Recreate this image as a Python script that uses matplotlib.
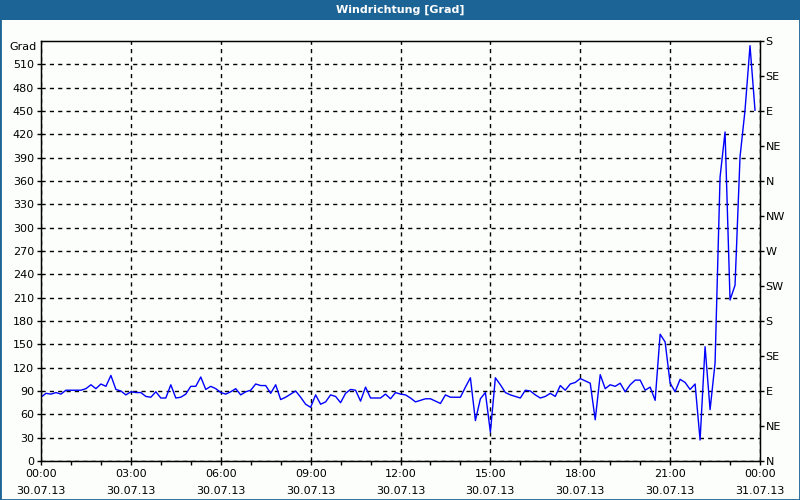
import numpy as np
import pandas as pd
import matplotlib
matplotlib.use("Agg")
import matplotlib.pyplot as plt
import matplotlib.dates as mdates
from matplotlib.ticker import MultipleLocator, FixedLocator

# wind direction, 10-minute values from 30.07.13 00:00 to 23:50
richtung = [
    82, 87, 86, 88, 86, 91, 91, 91, 91, 93,
    98, 93, 99, 96, 110, 92, 90, 85, 89, 88,
    88, 83, 82, 89, 81, 81, 98, 81, 82, 86,
    96, 96, 108, 92, 96, 93, 88, 86, 89, 93,
    85, 89, 91, 99, 97, 97, 87, 98, 79, 82,
    86, 90, 82, 73, 69, 85, 73, 76, 85, 83,
    75, 87, 92, 91, 77, 95, 81, 81, 81, 86,
    80, 88, 86, 85, 81, 76, 78, 80, 80, 77,
    74, 85, 82, 82, 82, 95, 107, 52, 80, 88,
    37, 107, 98, 88, 85, 83, 81, 91, 90, 85,
    81, 83, 87, 83, 97, 91, 99, 101, 106, 103,
    100, 53, 111, 93, 98, 96, 100, 89, 98, 104,
    104, 91, 95, 78, 163, 153, 100, 89, 105, 101,
    92, 99, 27, 147, 66, 126, 365, 423, 207, 226,
    391, 451, 534, 451,
]
zeit = pd.date_range("2013-07-30 00:00", periods=len(richtung), freq="10min")

kompass = ["N", "NE", "E", "SE", "S", "SW", "W", "NW", "N", "NE", "E", "SE", "S"]
kompass_pos = [45 * i for i in range(len(kompass))]

blau = "#1d6496"
hintergrund = "#fbfefb"

fig = plt.figure(figsize=(8, 5), dpi=100, facecolor=hintergrund)
ax = fig.add_axes([41 / 800, 39 / 500, 719 / 800, 420 / 500])
ax.set_facecolor(hintergrund)

ax.plot(zeit, richtung, color="#0000ff", linewidth=1)

start = pd.Timestamp("2013-07-30 00:00")
ende = pd.Timestamp("2013-07-31 00:00")
ax.set_xlim(start, ende)
ax.set_ylim(0, 540)

ax.xaxis.set_major_locator(mdates.HourLocator(byhour=range(0, 24, 3)))
ax.xaxis.set_minor_locator(mdates.HourLocator())
ax.xaxis.set_major_formatter(mdates.DateFormatter("%H:%M\n%d.%m.%y"))
ax.yaxis.set_major_locator(FixedLocator(range(0, 540, 30)))

ax.tick_params(axis="both", which="major", direction="out", length=3,
               width=1, color="black", labelsize=8, pad=2)
ax.tick_params(axis="x", which="minor", direction="out", length=3, width=1)
ax.tick_params(axis="x", pad=3)
for lab in ax.get_xticklabels():
    lab.set_linespacing(1.8)

ax.grid(True, which="major", color="black", linestyle=(0, (3, 3)), linewidth=1)
for sp in ax.spines.values():
    sp.set_color("black")
    sp.set_linewidth(1)

ax.text(-0.006, 0.998, "Grad", transform=ax.transAxes, ha="right", va="top", fontsize=8)

ax2 = ax.twinx()
ax2.set_ylim(0, 540)
ax2.yaxis.set_major_locator(FixedLocator(kompass_pos))
ax2.set_yticklabels(kompass)
ax2.tick_params(axis="y", direction="out", length=3, width=1, labelsize=8, pad=1)

# title bar and frame
fig.patches.append(plt.Rectangle((0, 480 / 500), 1, 20 / 500, transform=fig.transFigure,
                                 facecolor=blau, edgecolor="none", zorder=0))
fig.patches.append(plt.Rectangle((0, 0), 1, 1, transform=fig.transFigure,
                                 facecolor="none", edgecolor=blau, linewidth=2, zorder=5))
fig.text(0.5, 490 / 500, "Windrichtung [Grad]", color="white", fontsize=8,
         fontweight="bold", ha="center", va="center")

fig.savefig("out.png", dpi=100, facecolor=hintergrund)
